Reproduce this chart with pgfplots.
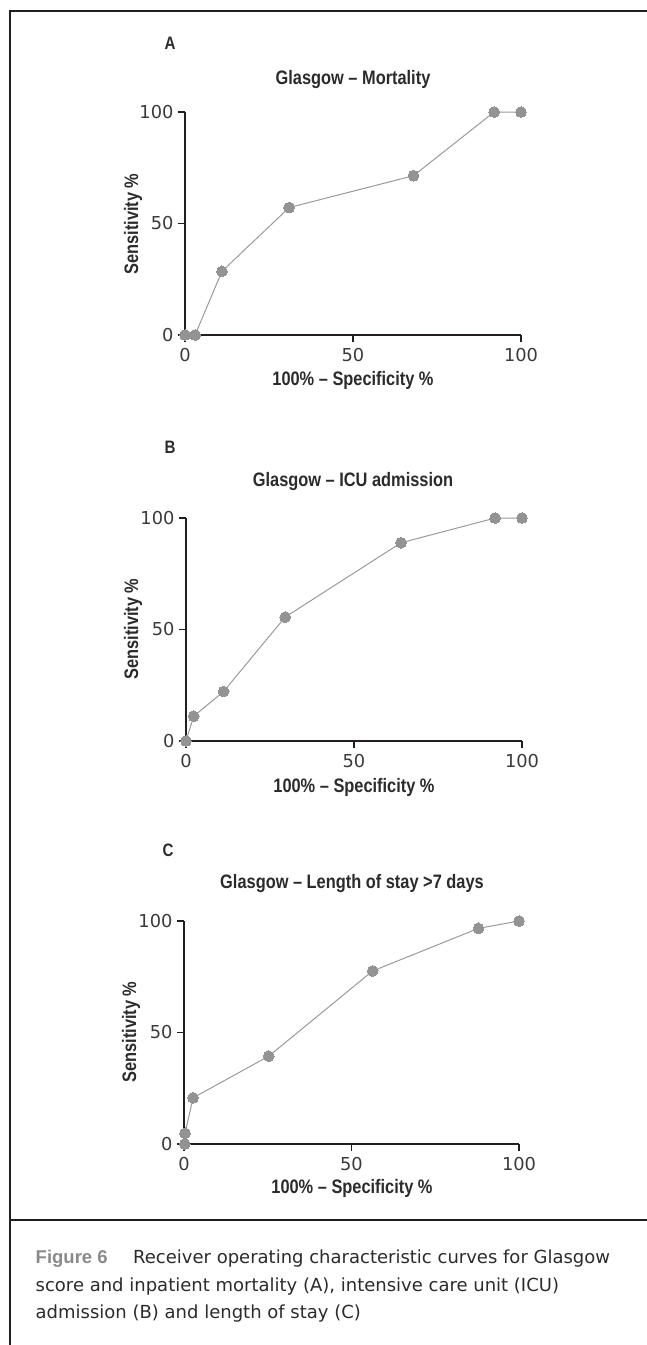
\documentclass[border=0pt]{standalone}
\usepackage{fontspec}
\setmainfont{Liberation Sans}
\newfontfamily\condbf{Liberation Sans}[FakeStretch=0.84]
\newfontfamily\dejavu{DejaVu Sans}
\usepackage{pgfplots}
\pgfplotsset{compat=1.18}

\definecolor{framecol}{HTML}{231F20}
\definecolor{axiscol}{HTML}{231F20}
\definecolor{curvegray}{HTML}{9A9A9A}
\definecolor{markgray}{HTML}{939393}
\definecolor{textdark}{HTML}{2B2B2B}
\definecolor{ticktext}{HTML}{3A3A3A}
\definecolor{figgray}{HTML}{8A8A8A}

% ROC curves: x = 100% - specificity, y = sensitivity
\pgfplotstableread{
fpr  sens
0    0
3    0
11   28.57
31   57.14
68   71.43
92   100
100  100
}\mortality
\pgfplotstableread{
fpr  sens
0    0
2.3  11.11
11.2 22.22
29.5 55.56
64   88.89
92   100
100  100
}\icu
\pgfplotstableread{
fpr  sens
0.2  0
0.3  4.8
2.7  20.7
25.3 39.4
56.3 77.6
87.9 96.7
100  100
}\stay

\pgfplotsset{
  rocaxis/.style={
    scale only axis, width=336pt, height=223pt,
    xmin=0, xmax=100, ymin=0, ymax=100,
    axis lines=left,
    axis line style={-, line width=1.4pt, draw=axiscol},
    xtick={0,50,100}, ytick={0,50,100},
    tick align=outside, major tick length=7pt,
    tick style={line width=1.2pt, draw=axiscol},
    /pgf/number format/assume math mode=true,
    tick label style={font=\dejavu\fontsize{17.8}{18}\selectfont, text=ticktext},
    xticklabel style={yshift=-3pt},
    yticklabel style={xshift=-1pt},
    clip=false,
  },
  roccurve/.style={
    color=curvegray, line width=1pt,
    mark=*, mark size=5.4pt,
    mark options={fill=markgray, draw=markgray, line width=0pt},
  },
}

\tikzset{
  paneltitle/.style={font=\condbf\bfseries\fontsize{19.5}{21}\selectfont, text=textdark},
  panelletter/.style={font=\condbf\bfseries\fontsize{18}{20}\selectfont, text=textdark},
  captxt/.style={font=\dejavu\fontsize{18}{20}\selectfont, text=textdark, anchor=base west, inner sep=0pt},
}

\begin{document}
\begin{tikzpicture}[x=1pt, y=1pt]
\useasboundingbox (0,0) rectangle (647,-1345);

% frame
\draw[line width=2pt, framecol] (10,-1345) -- (10,-11) -- (647,-11);
\draw[line width=2pt, framecol] (10,-1220) -- (647,-1220);

% Panel A
\node[panelletter] at (170,-43) {A};
\node[paneltitle] at (353,-79) {Glasgow – Mortality};
\begin{axis}[rocaxis, at={(185pt,-335pt)}, anchor=south west]
\addplot[roccurve] table[x=fpr, y=sens] {\mortality};
\end{axis}
\node[paneltitle] at (353,-380) {100\% – Specificity \%};
\node[paneltitle, rotate=90] at (133,-224) {Sensitivity \%};

% Panel B
\node[panelletter] at (170,-447) {B};
\node[paneltitle] at (353,-481) {Glasgow – ICU admission};
\begin{axis}[rocaxis, at={(186pt,-741pt)}, anchor=south west]
\addplot[roccurve] table[x=fpr, y=sens] {\icu};
\end{axis}
\node[paneltitle] at (354,-787) {100\% – Specificity \%};
\node[paneltitle, rotate=90] at (133,-629) {Sensitivity \%};

% Panel C
\node[panelletter] at (168,-850) {C};
\node[paneltitle] at (352,-883) {Glasgow – Length of stay >7 days};
\begin{axis}[rocaxis, at={(184pt,-1144pt)}, anchor=south west, width=335pt]
\addplot[roccurve] table[x=fpr, y=sens] {\stay};
\end{axis}
\node[paneltitle] at (352,-1188) {100\% – Specificity \%};
\node[paneltitle, rotate=90] at (131,-1032) {Sensitivity \%};

% caption
\node[captxt, font=\bfseries\fontsize{18.5}{20}\selectfont, text=figgray] at (35.5,-1263) {Figure 6};
\node[captxt] at (133,-1263) {Receiver operating characteristic curves for Glasgow};
\node[captxt] at (35.5,-1291) {score and inpatient mortality (A), intensive care unit (ICU)};
\node[captxt] at (35.5,-1318.5) {admission (B) and length of stay (C)};
\end{tikzpicture}
\end{document}
